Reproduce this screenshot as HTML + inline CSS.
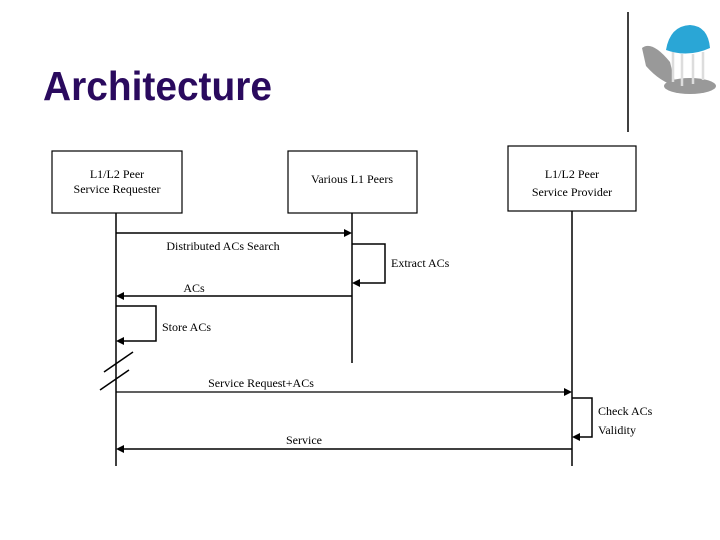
<!DOCTYPE html>
<html><head><meta charset="utf-8"><style>
html,body{margin:0;padding:0;background:#fff;width:720px;height:540px;overflow:hidden}
</style></head><body>
<svg width="720" height="540" xmlns="http://www.w3.org/2000/svg" font-family="Liberation Serif, serif" font-size="12" fill="#000">
<text x="43" y="100" font-family="Liberation Sans, sans-serif" font-weight="bold" font-size="41" textLength="229" lengthAdjust="spacingAndGlyphs" fill="#2a0a5e">Architecture</text>
<line x1="628" y1="12" x2="628" y2="132" stroke="#000" stroke-width="1.5"/>
<!-- logo -->
<path d="M642 48 Q652 40 670 62 L676 86 Q660 82 646 66Z" fill="#999"/>
<ellipse cx="690" cy="86" rx="26" ry="8" fill="#999"/>
<g stroke="#ddd" stroke-width="2.5"><line x1="673" y1="52" x2="673" y2="82"/><line x1="682" y1="54" x2="682" y2="86"/><line x1="693" y1="54" x2="693" y2="84"/><line x1="703" y1="52" x2="703" y2="80"/></g>
<path d="M666 50 Q670 26 690 25 Q708 26 710 48 Q688 58 666 50Z" fill="#2aa6d6"/>
<!-- boxes -->
<g fill="#fff" stroke="#000" stroke-width="1.2">
<rect x="52" y="151" width="130" height="62"/>
<rect x="288" y="151" width="129" height="62"/>
<rect x="508" y="146" width="128" height="65"/>
</g>
<text x="117" y="178" text-anchor="middle">L1/L2 Peer</text>
<text x="117" y="193" text-anchor="middle">Service Requester</text>
<text x="352" y="183" text-anchor="middle">Various L1 Peers</text>
<text x="572" y="178" text-anchor="middle">L1/L2 Peer</text>
<text x="572" y="196" text-anchor="middle">Service Provider</text>
<!-- lifelines -->
<g stroke="#000" stroke-width="1.5" fill="none">
<line x1="116" y1="213" x2="116" y2="466"/>
<line x1="352" y1="213" x2="352" y2="363"/>
<line x1="572" y1="211" x2="572" y2="466"/>
<line x1="116" y1="233" x2="346" y2="233"/>
<polyline points="352,244 385,244 385,283 358,283"/>
<line x1="122" y1="296" x2="352" y2="296"/>
<polyline points="116,306 156,306 156,341 122,341"/>
<line x1="116" y1="392" x2="566" y2="392" stroke-width="1.2"/>
<polyline points="572,398 592,398 592,437 578,437"/>
<line x1="122" y1="449" x2="572" y2="449"/>
<line x1="104" y1="372" x2="133" y2="352"/>
<line x1="100" y1="390" x2="129" y2="370"/>
</g>
<g fill="#000">
<polygon points="352,233 344,229 344,237"/>
<polygon points="352,283 360,279 360,287"/>
<polygon points="116,296 124,292 124,300"/>
<polygon points="116,341 124,337 124,345"/>
<polygon points="572,392 564,388 564,396"/>
<polygon points="572,437 580,433 580,441"/>
<polygon points="116,449 124,445 124,453"/>
</g>
<text x="223" y="250" text-anchor="middle">Distributed ACs Search</text>
<text x="391" y="267">Extract ACs</text>
<text x="194" y="292" text-anchor="middle">ACs</text>
<text x="162" y="331">Store ACs</text>
<text x="261" y="387" text-anchor="middle">Service Request+ACs</text>
<text x="598" y="415">Check ACs</text>
<text x="598" y="434">Validity</text>
<text x="304" y="444" text-anchor="middle">Service</text>
</svg>
</body></html>
